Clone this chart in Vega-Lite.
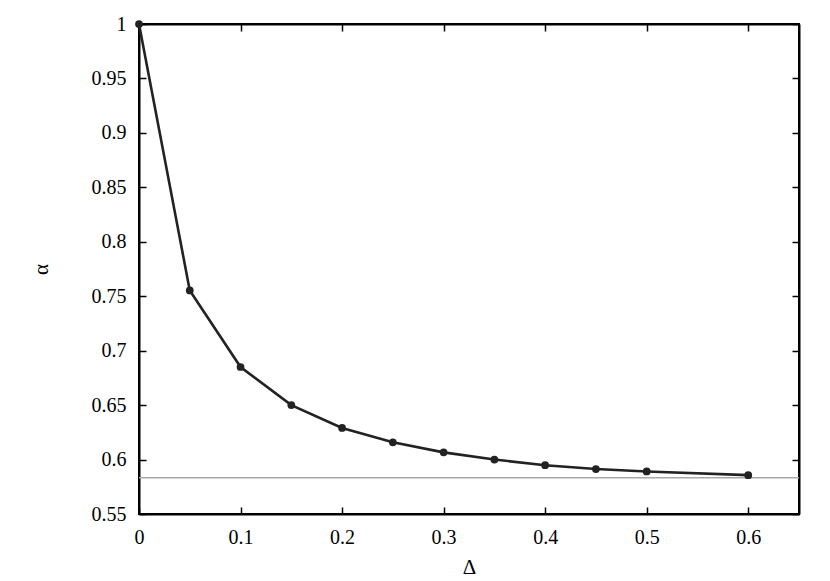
{
  "$schema": "https://vega.github.io/schema/vega-lite/v6.json",
  "width": 660,
  "height": 490,
  "autosize": {"type": "none"},
  "padding": {"left": 139, "top": 24, "right": 31, "bottom": 67},
  "background": "white",
  "config": {
    "view": {"stroke": "#000", "strokeWidth": 2},
    "font": "Liberation Serif",
    "axis": {
      "labelFont": "Liberation Serif",
      "titleFont": "Liberation Serif",
      "labelFontSize": 20,
      "titleFontSize": 21,
      "titleFontWeight": "normal",
      "labelColor": "#000",
      "titleColor": "#000",
      "domainColor": "#000",
      "domainWidth": 2,
      "tickColor": "#000",
      "tickWidth": 1.5,
      "tickSize": -7,
      "grid": false
    }
  },
  "data": {
    "values": [
      {"delta": 0.0, "alpha": 1.0},
      {"delta": 0.05, "alpha": 0.7553},
      {"delta": 0.1, "alpha": 0.685},
      {"delta": 0.15, "alpha": 0.65},
      {"delta": 0.2, "alpha": 0.629},
      {"delta": 0.25, "alpha": 0.6158},
      {"delta": 0.3, "alpha": 0.6066},
      {"delta": 0.35, "alpha": 0.6},
      {"delta": 0.4, "alpha": 0.5948},
      {"delta": 0.45, "alpha": 0.5913},
      {"delta": 0.5, "alpha": 0.5891},
      {"delta": 0.6, "alpha": 0.5857}
    ]
  },
  "resolve": {"axis": {"x": "independent", "y": "independent"}},
  "layer": [
    {
      "data": {"values": [{"limit": 0.5833}]},
      "mark": {"type": "rule", "color": "#a8a8a8", "strokeWidth": 1.3},
      "encoding": {
        "y": {"field": "limit", "type": "quantitative", "scale": {"domain": [0.55, 1], "nice": false, "zero": false}, "axis": null}
      }
    },
    {
      "mark": {"type": "line", "color": "#222", "strokeWidth": 2.6},
      "encoding": {
        "x": {"field": "delta", "type": "quantitative", "scale": {"domain": [0, 0.65], "nice": false, "zero": false},
          "axis": {"orient": "bottom", "title": "Δ", "values": [0, 0.1, 0.2, 0.3, 0.4, 0.5, 0.6], "format": "~g", "labelPadding": 20, "titlePadding": 9, "labelFlush": false}},
        "y": {"field": "alpha", "type": "quantitative", "scale": {"domain": [0.55, 1], "nice": false, "zero": false},
          "axis": {"orient": "left", "title": "α", "values": [0.55, 0.6, 0.65, 0.7, 0.75, 0.8, 0.85, 0.9, 0.95, 1], "format": "~g", "labelPadding": 20, "titlePadding": 40, "labelFlush": false}}
      }
    },
    {
      "mark": {"type": "circle", "color": "#222", "opacity": 1, "size": 60},
      "encoding": {
        "x": {"field": "delta", "type": "quantitative", "scale": {"domain": [0, 0.65], "nice": false, "zero": false},
          "axis": {"orient": "top", "title": null, "labels": false, "values": [0, 0.1, 0.2, 0.3, 0.4, 0.5, 0.6]}},
        "y": {"field": "alpha", "type": "quantitative", "scale": {"domain": [0.55, 1], "nice": false, "zero": false},
          "axis": {"orient": "right", "title": null, "labels": false, "values": [0.55, 0.6, 0.65, 0.7, 0.75, 0.8, 0.85, 0.9, 0.95, 1]}}
      }
    }
  ]
}
